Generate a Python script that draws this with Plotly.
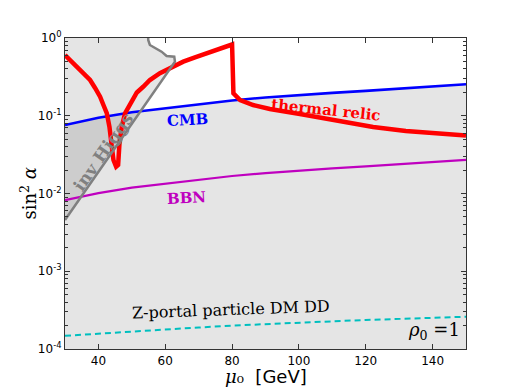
import numpy as np
import plotly.graph_objects as go

# masa mu_0 en GeV para las curvas suaves
MASAS = [30, 40, 50, 60, 70, 80, 90, 100, 110, 120, 130, 140, 150]

CMB = [0.076, 0.094, 0.111, 0.125, 0.141, 0.157, 0.172, 0.185, 0.197, 0.209, 0.223, 0.238, 0.254]
BBN = [0.0082, 0.0101, 0.0119, 0.0134, 0.0151, 0.0168, 0.0183, 0.0197, 0.0210, 0.0223, 0.0238, 0.0254, 0.027]
Z_PORTAL = [1.48e-4, 1.58e-4, 1.68e-4, 1.78e-4, 1.89e-4, 2.0e-4, 2.1e-4, 2.18e-4, 2.27e-4, 2.36e-4, 2.45e-4, 2.53e-4, 2.6e-4]

# reliquia termica
RELIC_X = [30, 33.5, 35.4, 37.5, 39.0, 40.5, 41.5, 42.5, 43.3, 44.0, 44.5, 45.3, 45.9, 46.3,
           47.0, 48.0, 50.0, 51.5, 53.4, 55.4, 58.4, 61.4, 65.4, 68.9, 72.4, 75.8, 79.4, 80.0,
           80.4, 81.4, 82.4, 86.3, 91.3, 100.3, 112.3, 122.2, 132.0, 150]
RELIC_Y = [0.604, 0.428, 0.355, 0.288, 0.2275, 0.176, 0.1375, 0.108, 0.072, 0.040, 0.027,
           0.0221, 0.0233, 0.0442, 0.0723, 0.108, 0.159, 0.199, 0.236, 0.288, 0.352, 0.411,
           0.496, 0.565, 0.636, 0.722, 0.812, 0.825, 0.194, 0.176, 0.159, 0.1375, 0.122,
           0.1054, 0.0856, 0.0717, 0.0637, 0.0557]

# limite de Higgs invisible
HIGGS_X = [30, 62.9, 62.7, 60.4, 58.9, 56.9, 55.4, 54.9, 54.9]
HIGGS_Y = [0.00456, 0.496, 0.575, 0.587, 0.667, 0.737, 0.813, 0.942, 1.0]

Y_TICKS = [1e-4, 1e-3, 1e-2, 1e-1, 1]
Y_TEXT = ["10<sup>-4</sup>", "10<sup>-3</sup>", "10<sup>-2</sup>", "10<sup>-1</sup>", "10<sup>0</sup>"]
X_TICKS = [40, 60, 80, 100, 120, 140]

SERIF = "DejaVu Serif"
SANS = "DejaVu Sans"


def main():
    fig = go.Figure()

    # region excluida por CMB (todo lo que queda debajo)
    fig.add_trace(go.Scatter(
        x=MASAS + [150, 30], y=CMB + [1e-4, 1e-4],
        fill="toself", fillcolor="rgba(0,0,0,0.1)", line_width=0,
        mode="lines", hoverinfo="skip",
    ))
    # region excluida por Higgs invisible
    fig.add_trace(go.Scatter(
        x=HIGGS_X + [30], y=HIGGS_Y + [1.0],
        fill="toself", fillcolor="rgba(0,0,0,0.1)", line_width=0,
        mode="lines", hoverinfo="skip",
    ))

    fig.add_trace(go.Scatter(x=MASAS, y=BBN, mode="lines", line=dict(color="#bf00bf", width=2.2)))
    fig.add_trace(go.Scatter(x=MASAS, y=CMB, mode="lines", line=dict(color="#0000ff", width=2.6)))
    fig.add_trace(go.Scatter(x=MASAS, y=Z_PORTAL, mode="lines",
                             line=dict(color="#00bfbf", width=2, dash="6px,4px")))
    fig.add_trace(go.Scatter(x=RELIC_X, y=RELIC_Y, mode="lines",
                             line=dict(color="#ff0000", width=4.5)))
    fig.add_trace(go.Scatter(x=HIGGS_X, y=HIGGS_Y, mode="lines",
                             line=dict(color="#808080", width=2.5)))

    minor_y = [m * 10.0 ** e for e in range(-4, 0) for m in range(2, 10)]

    fig.update_xaxes(
        range=[30, 150], tickvals=X_TICKS, ticks="inside", ticklen=5,
        tickcolor="#333", showline=True, linecolor="#333", linewidth=1.2,
        mirror="allticks", showgrid=False, zeroline=False,
        tickfont=dict(family=SANS, size=12, color="black"),
    )
    fig.update_yaxes(
        type="log", range=[-4, 0], tickvals=Y_TICKS, ticktext=Y_TEXT,
        ticks="inside", ticklen=5, tickcolor="#333",
        showline=True, linecolor="#333", linewidth=1.2, mirror="allticks",
        showgrid=False, zeroline=False,
        tickfont=dict(family=SANS, size=12, color="black"),
        minor=dict(tickvals=minor_y, ticks="inside", ticklen=2.5, tickcolor="#333", showgrid=False),
    )

    def etiqueta(x, y, texto, color, size=15, angle=0, bold=True, family=SERIF):
        return dict(
            x=x, y=np.log10(y), xref="x", yref="y", showarrow=False,
            text=f"<b>{texto}</b>" if bold else texto, textangle=angle,
            font=dict(family=family, size=size, color=color),
        )

    anotaciones = [
        etiqueta(66.8, 10 ** -1.055, "CMB", "#0000ff", angle=-3),
        etiqueta(66.5, 10 ** -2.058, "BBN", "#bf00bf", angle=-3),
        etiqueta(108.1, 10 ** -0.926, "thermal relic", "#ff0000", angle=6),
        etiqueta(41.4, 10 ** -1.466, "inv Higgs", "#808080", size=17, angle=-55),
        etiqueta(79.7, 10 ** -3.498, "Z-portal particle DM DD", "black", size=16, angle=-2, bold=False),
        etiqueta(140.4, 10 ** -3.768, "<i>ρ</i><sub>0</sub> =1", "black", size=18, bold=False),
        dict(x=0.5, y=-0.09, xref="paper", yref="paper", showarrow=False,
             xanchor="center", yanchor="middle",
             text=f"<span style='font-family:{SERIF}'><i>μ</i>₀</span>  [GeV]",
             font=dict(family=SANS, size=18, color="black")),
        dict(x=-0.092, y=0.5, xref="paper", yref="paper", showarrow=False, textangle=-90,
             xanchor="center", yanchor="middle",
             text="sin<sup>2</sup> <i>α</i>",
             font=dict(family=SERIF, size=18, color="black")),
    ]

    # la pagina tiene 8 px de margen en el body, se compensa aqui
    fig.update_layout(
        width=518, height=388, showlegend=False,
        margin=dict(l=57, r=60, t=30, b=47),
        paper_bgcolor="white", plot_bgcolor="white",
        annotations=anotaciones,
    )

    fig.write_html("out.html")


if __name__ == "__main__":
    main()
